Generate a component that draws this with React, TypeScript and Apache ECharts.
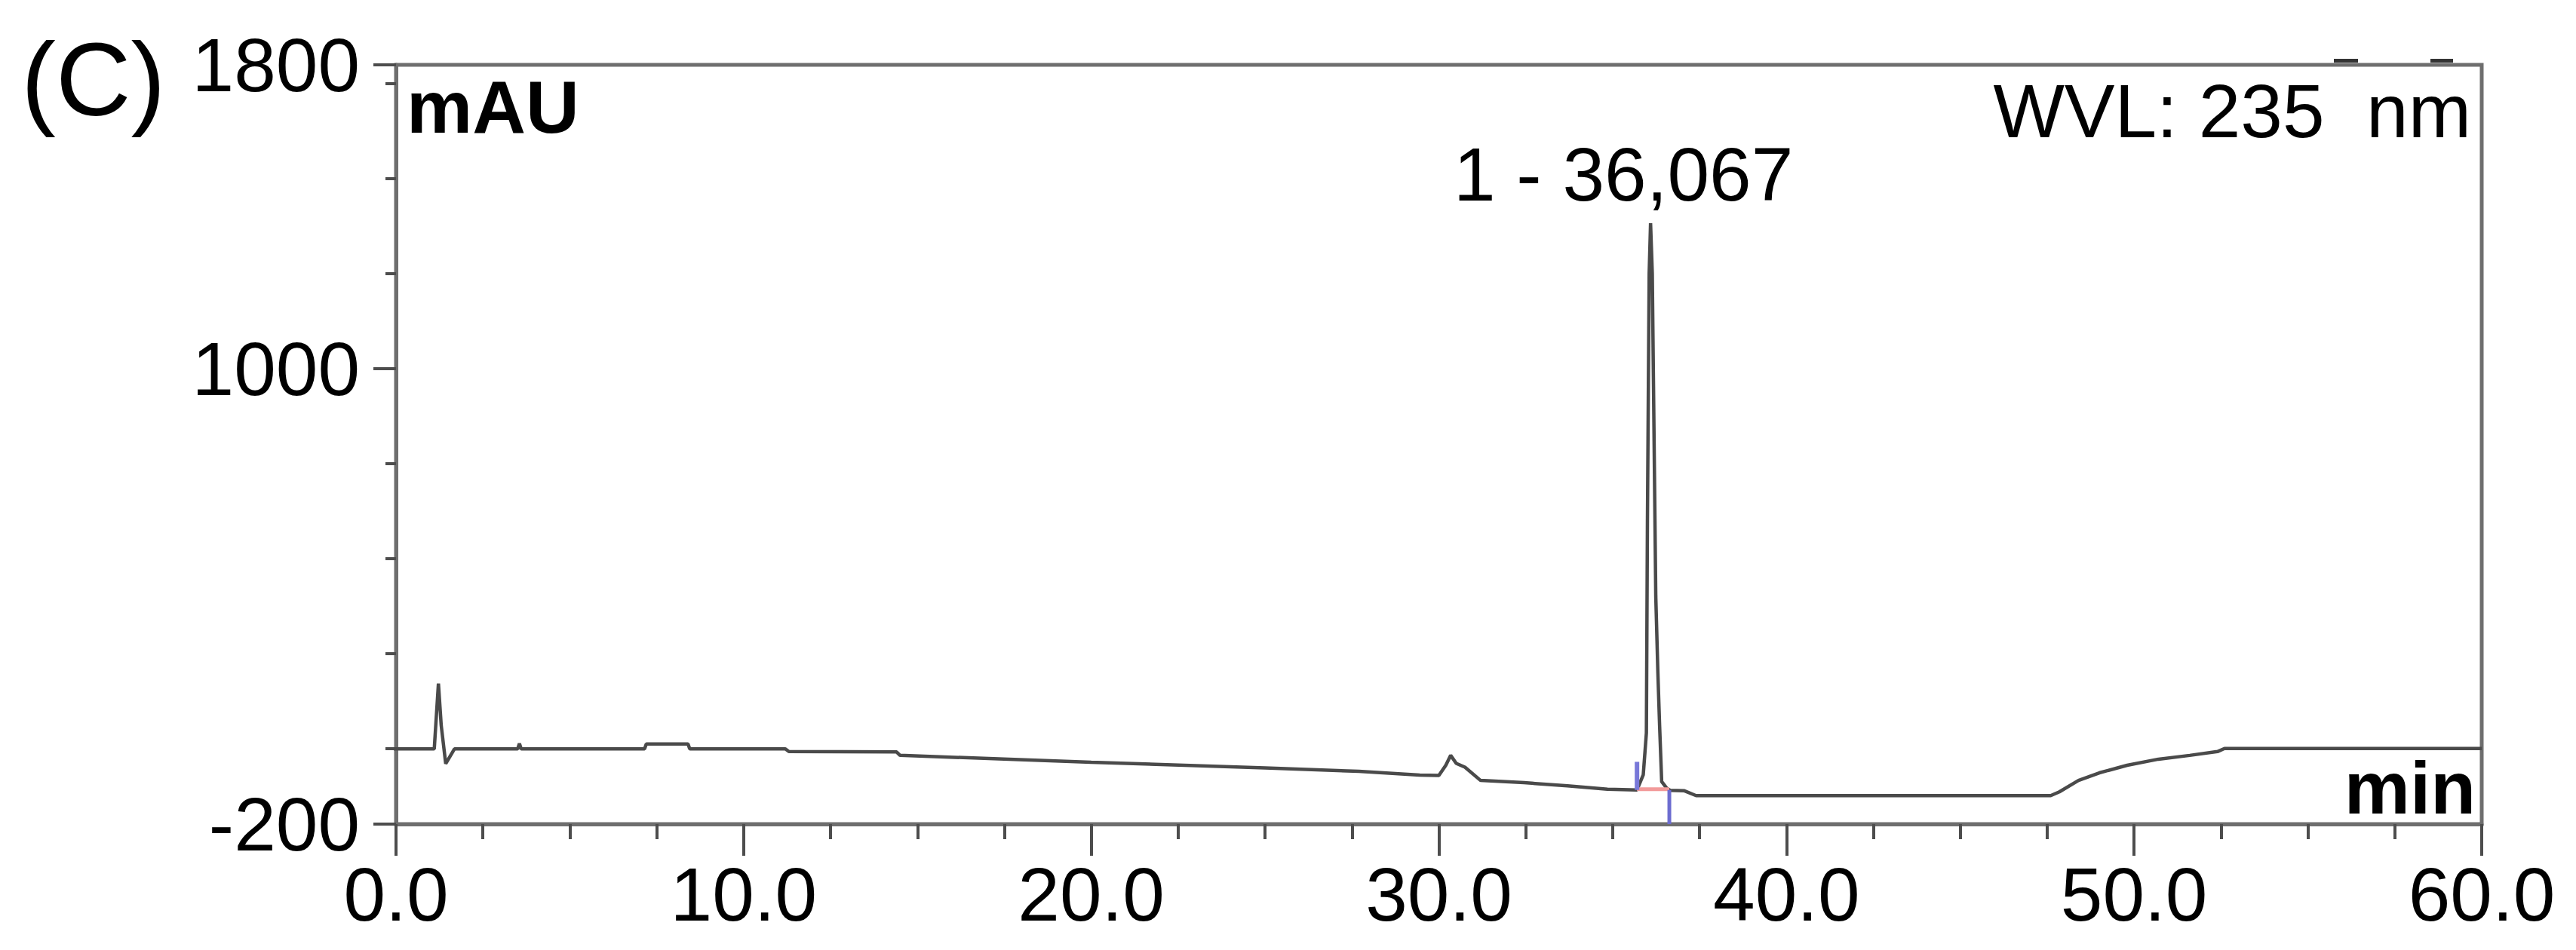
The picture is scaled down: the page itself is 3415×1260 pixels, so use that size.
import React, { useEffect, useRef } from "react";
import * as echarts from "echarts";

// ---- data ----
const retentionTime: number[] = [
  -0.76, 1.1, 1.22, 1.3, 1.43, 1.68, 3.5, 3.55, 3.6, 7.15, 7.2, 8.4, 8.45, 11.2, 11.3,
  14.4, 14.5, 20.0, 25.0, 27.7, 29.45, 30.0, 30.2, 30.34, 30.5, 30.75, 31.2, 32.45,
  33.7, 34.85, 35.7, 35.88, 35.97, 36.0, 36.05, 36.09, 36.14, 36.24, 36.3, 36.35,
  36.41, 36.55, 36.65, 37.05, 37.4, 47.6, 47.85, 48.4, 49.0, 49.8, 50.7, 51.6, 52.4,
  52.6, 60.0,
];
const absorbance: number[] = [
  -2, -2, 170, 60, -41, -2, -2, 12, -2, -2, 11, 11, -2, -2, -9,
  -10, -19, -37, -52, -61, -71, -72, -45, -19, -40, -50, -85, -91,
  -99, -108, -110, -70, 40, 600, 1250, 1383, 1250, 400, 200, 60,
  -88, -105, -111, -112, -125, -125, -115, -85, -65, -45, -29, -19, -9,
  -1, -1,
];

const peakName = "1 - 36,067";
const peakApex: [number, number] = [36.09, 1383];
const integrationStart = 35.7;
const integrationEnd = 36.63;
const integrationLevel = -108;
const startMarkerValues: [number, number] = [-110, -36];
const endMarkerValues: [number, number] = [-110, -200];

const xMin = 0;
const xMax = 60;
const xInterval = 10;
const yMin = -200;
const yMax = 1800;
const yLabelValues: number[] = [-200, 1000, 1800];
const yMinorTickValues: number[] = [0, 250, 500, 750, 1250, 1500, 1750];

const panelLabel = "(C)";
const yUnit = "mAU";
const xUnit = "min";
const wavelengthText = "WVL: 235  nm";

const FONT = '"Liberation Sans", Arial, Helvetica, sans-serif';

export default function App() {
  const ref = useRef<HTMLDivElement>(null);

  useEffect(() => {
    if (!ref.current) return;
    const chart = echarts.init(ref.current, undefined, { renderer: "svg" });

    const trace = retentionTime.map((t, i) => [t, absorbance[i]]);
    const axisLineStyle = { color: "#6e6e6e", width: 5 };
    const tickStyle = { color: "#4d4d4d", width: 4 };
    const gridPos = { left: 525, right: 125, top: 86, bottom: 167 };

    chart.setOption({
      animation: false,
      backgroundColor: "#ffffff",
      grid: [
        { ...gridPos, show: true, borderColor: "#6e6e6e", borderWidth: 5, backgroundColor: "transparent" },
        { ...gridPos, show: false },
      ],
      xAxis: [
        {
          type: "value",
          gridIndex: 0,
          min: xMin,
          max: xMax,
          interval: xInterval,
          axisLine: { show: true, onZero: false, lineStyle: axisLineStyle },
          axisTick: { show: true, length: 42, lineStyle: tickStyle },
          minorTick: { show: true, splitNumber: 4, length: 20, lineStyle: tickStyle },
          splitLine: { show: false },
          minorSplitLine: { show: false },
          axisLabel: {
            formatter: (v: number) => v.toFixed(1),
            fontSize: 100,
            lineHeight: 100,
            fontFamily: FONT,
            color: "#000",
            margin: 43,
            showMinLabel: true,
            showMaxLabel: true,
          },
        },
        { type: "value", gridIndex: 1, min: xMin, max: xMax, show: false },
      ],
      yAxis: [
        {
          type: "value",
          gridIndex: 0,
          min: yMin,
          max: yMax,
          axisLine: { show: true, onZero: false, lineStyle: axisLineStyle },
          axisTick: { show: true, length: 30, lineStyle: tickStyle, customValues: yLabelValues },
          splitLine: { show: false },
          axisLabel: {
            customValues: yLabelValues,
            formatter: (v: number) => String(v),
            fontSize: 100,
            lineHeight: 100,
            fontFamily: FONT,
            color: "#000",
            margin: 48,
          },
        },
        {
          type: "value",
          gridIndex: 1,
          min: yMin,
          max: yMax,
          axisLine: { show: false },
          axisTick: { show: true, length: 14, lineStyle: tickStyle, customValues: yMinorTickValues },
          axisLabel: { show: false },
          splitLine: { show: false },
        },
      ],
      series: [
        {
          name: "trace",
          type: "line",
          xAxisIndex: 0,
          yAxisIndex: 0,
          data: trace,
          showSymbol: false,
          symbol: "none",
          clip: false,
          lineStyle: { color: "#4a4a4a", width: 4.5 },
          z: 3,
        },
        {
          name: "integration",
          type: "line",
          data: [
            [integrationStart, integrationLevel],
            [integrationEnd, integrationLevel],
          ],
          symbol: "none",
          lineStyle: { color: "#f29a9a", width: 5 },
          z: 4,
        },
        {
          name: "startMarker",
          type: "line",
          data: [
            [integrationStart, startMarkerValues[0]],
            [integrationStart, startMarkerValues[1]],
          ],
          symbol: "none",
          lineStyle: { color: "#7878d8", width: 6 },
          z: 5,
        },
        {
          name: "endMarker",
          type: "line",
          data: [
            [integrationEnd, endMarkerValues[0]],
            [integrationEnd, endMarkerValues[1]],
          ],
          symbol: "none",
          lineStyle: { color: "#6c6cd0", width: 5 },
          z: 5,
        },
        {
          name: "peakLabel",
          type: "scatter",
          data: [peakApex],
          symbolSize: 1,
          itemStyle: { color: "rgba(0,0,0,0)" },
          label: {
            show: true,
            position: "top",
            distance: 5,
            offset: [-36, -9],
            formatter: peakName,
            fontSize: 100,
            lineHeight: 100,
            fontFamily: FONT,
            color: "#000000",
            opacity: 1,
          },
          z: 6,
        },
      ],
      graphic: [
        {
          type: "text",
          x: 28,
          y: 105,
          style: {
            text: panelLabel,
            font: `138px ${FONT}`,
            fill: "#000",
            align: "left",
            verticalAlign: "middle",
            textAlign: "left",
            textVerticalAlign: "middle",
          },
        },
        {
          type: "text",
          x: 539,
          y: 142,
          style: {
            text: yUnit,
            font: `bold 98px ${FONT}`,
            fill: "#000",
            align: "left",
            verticalAlign: "middle",
            textAlign: "left",
            textVerticalAlign: "middle",
          },
        },
        {
          type: "text",
          x: 3276,
          y: 147,
          style: {
            text: wavelengthText,
            font: `100px ${FONT}`,
            fill: "#000",
            align: "right",
            verticalAlign: "middle",
            textAlign: "right",
            textVerticalAlign: "middle",
          },
        },
        {
          type: "text",
          x: 3282,
          y: 1045,
          style: {
            text: xUnit,
            font: `bold 98px ${FONT}`,
            fill: "#000",
            align: "right",
            verticalAlign: "middle",
            textAlign: "right",
            textVerticalAlign: "middle",
          },
        },
        { type: "rect", shape: { x: 3094, y: 78, width: 32, height: 5 }, style: { fill: "#333" } },
        { type: "rect", shape: { x: 3222, y: 78, width: 30, height: 5 }, style: { fill: "#333" } },
      ],
    });

    return () => chart.dispose();
  }, []);

  return (
    <div
      ref={ref}
      style={{ position: "absolute", left: 0, top: 0, width: 3415, height: 1260, background: "#fff" }}
    />
  );
}
